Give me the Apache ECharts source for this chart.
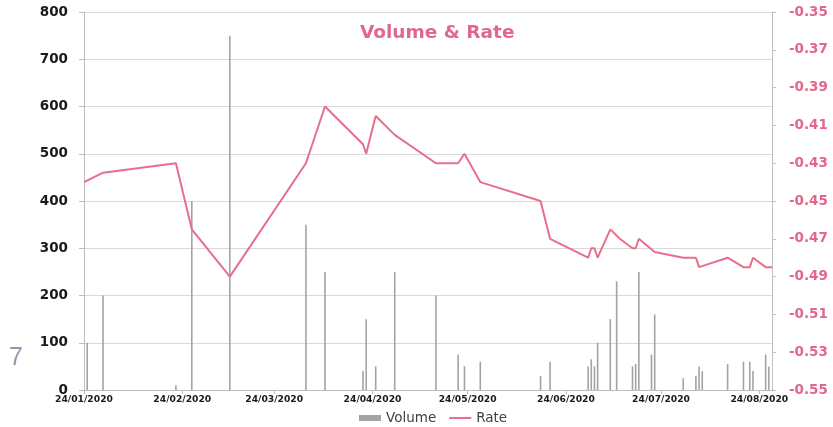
<!DOCTYPE html>
<html>
<head>
<meta charset="utf-8">
<script src="https://cdn.jsdelivr.net/npm/echarts@6/dist/echarts.min.js"></script>
<style>
html,body{margin:0;padding:0;background:#fff;}
#chart{width:833px;height:427px;}
</style>
</head>
<body>
<div id="chart"></div>
<script>
// ---- data ----
const tickDates = ['2020-01-24','2020-02-24','2020-03-24','2020-04-24','2020-05-24','2020-06-24','2020-07-24','2020-08-24'];
const axisStart = '2020-01-24';
const axisEnd = '2020-08-28';

const volDates = ['2020-01-25','2020-01-30','2020-02-22','2020-02-27','2020-03-10','2020-04-03','2020-04-09','2020-04-21','2020-04-22','2020-04-25','2020-05-01','2020-05-14','2020-05-21','2020-05-23','2020-05-28','2020-06-16','2020-06-19','2020-07-01','2020-07-02','2020-07-03','2020-07-04','2020-07-08','2020-07-10','2020-07-15','2020-07-16','2020-07-17','2020-07-21','2020-07-22','2020-07-31','2020-08-04','2020-08-05','2020-08-06','2020-08-14','2020-08-19','2020-08-21','2020-08-22','2020-08-26','2020-08-27'];
const volValues = [100,200,10,400,750,350,250,40,150,50,250,200,75,50,60,30,60,50,65,50,100,150,230,50,55,250,75,160,25,30,50,40,55,60,60,40,75,50];

const rateDates = ['2020-01-24','2020-01-30','2020-02-22','2020-02-27','2020-03-10','2020-04-03','2020-04-09','2020-04-21','2020-04-22','2020-04-25','2020-05-01','2020-05-14','2020-05-21','2020-05-23','2020-05-28','2020-06-16','2020-06-19','2020-07-01','2020-07-02','2020-07-03','2020-07-04','2020-07-08','2020-07-11','2020-07-15','2020-07-16','2020-07-17','2020-07-22','2020-07-31','2020-08-04','2020-08-05','2020-08-14','2020-08-19','2020-08-21','2020-08-22','2020-08-26','2020-08-28'];
const rateValues = [-0.44,-0.435,-0.43,-0.465,-0.49,-0.43,-0.40,-0.42,-0.425,-0.405,-0.415,-0.43,-0.43,-0.425,-0.44,-0.45,-0.47,-0.48,-0.475,-0.475,-0.48,-0.465,-0.47,-0.475,-0.475,-0.47,-0.477,-0.48,-0.48,-0.485,-0.48,-0.485,-0.485,-0.48,-0.485,-0.485];

// ---- helpers ----
function ts(s){ const p=s.split('-').map(Number); return new Date(p[0],p[1]-1,p[2]).getTime(); }
function pad(n){ return (n<10?'0':'')+n; }
function fmtDate(v){ const d=new Date(v); return pad(d.getDate())+'/'+pad(d.getMonth()+1)+'/'+d.getFullYear(); }

const PINK = '#e76f8b';
const PINK_TXT = '#e2688a';
const AXIS_GRAY = '#bfbfbf';

const chart = echarts.init(document.getElementById('chart'), null, {renderer:'canvas'});
const tickTs = tickDates.map(ts);

chart.setOption({
  animation:false,
  backgroundColor:'#ffffff',
  title:{
    text:'Volume & Rate',
    left:355, top:19,
    textStyle:{color:PINK_TXT, fontFamily:'DejaVu Sans', fontWeight:'bold', fontSize:18.5}
  },
  legend:{
    left:354, top:406,
    itemWidth:22, itemHeight:6, itemGap:12,
    textStyle:{color:'#404040', fontFamily:'DejaVu Sans', fontSize:13.5},
    data:[
      {name:'Volume', icon:'rect'},
      {name:'Rate', itemStyle:{color:'rgba(0,0,0,0)', borderColor:'rgba(0,0,0,0)', borderWidth:0, opacity:0}}
    ]
  },
  grid:{left:84, right:61, top:12, bottom:37, containLabel:false},
  xAxis:{
    type:'value',
    min:ts(axisStart), max:ts(axisEnd),
    axisLine:{show:true, lineStyle:{color:AXIS_GRAY, width:1}},
    axisTick:{show:true, customValues:tickTs, length:4, lineStyle:{color:AXIS_GRAY}},
    axisLabel:{customValues:tickTs, formatter:fmtDate, color:'#1a1a1a', fontFamily:'DejaVu Sans', fontWeight:'bold', fontSize:9.2, margin:5, hideOverlap:false},
    splitLine:{show:false}
  },
  yAxis:[
    {
      type:'value', min:0, max:800, interval:100, position:'left',
      axisLine:{show:true, lineStyle:{color:AXIS_GRAY}},
      axisTick:{show:true, length:5, lineStyle:{color:AXIS_GRAY}},
      axisLabel:{color:'#1a1a1a', fontFamily:'DejaVu Sans', fontWeight:'bold', fontSize:13.5, margin:16},
      splitLine:{show:true, lineStyle:{color:'#d9d9d9', width:1}}
    },
    {
      type:'value', min:-0.55, max:-0.35, interval:0.02, position:'right',
      axisLine:{show:true, lineStyle:{color:AXIS_GRAY}},
      axisTick:{show:true, length:4, lineStyle:{color:AXIS_GRAY}},
      axisLabel:{color:PINK_TXT, fontFamily:'DejaVu Sans', fontWeight:'bold', fontSize:13.5, margin:17,
        formatter:function(v){ return v.toFixed(2); }},
      splitLine:{show:false}
    }
  ],
  graphic:[{
    type:'text', left:9, top:346,
    style:{text:'7', fill:'#8c9cb2', font:'25px "Liberation Sans"'}
  }],
  series:[
    {
      name:'Volume', type:'bar', yAxisIndex:0, barWidth:1.6,
      itemStyle:{color:'#a3a3a3'},
      data:volDates.map(function(d,i){ return [ts(d), volValues[i]]; })
    },
    {
      name:'Rate', type:'line', yAxisIndex:1, symbol:'none', showSymbol:false,
      lineStyle:{color:PINK, width:2}, itemStyle:{color:PINK},
      data:rateDates.map(function(d,i){ return [ts(d), rateValues[i]]; })
    }
  ]
});
</script>
</body>
</html>
